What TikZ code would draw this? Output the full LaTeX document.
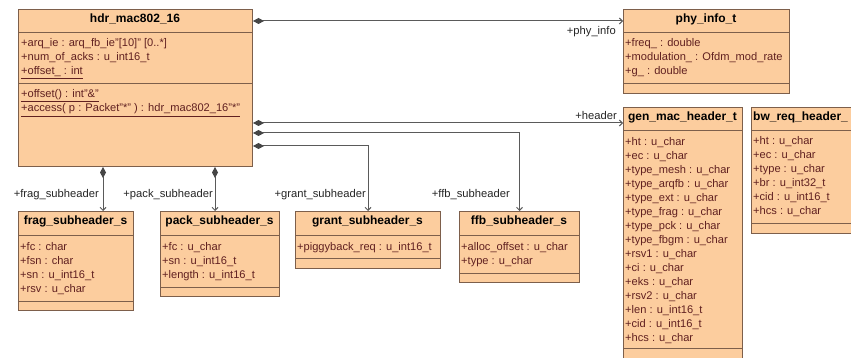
\documentclass[tikz,border=0pt]{standalone}
\usepackage{fontspec}
\setmainfont{Liberation Sans}
\usetikzlibrary{arrows.meta}
\definecolor{fillc}{RGB}{252,205,158}
\definecolor{edgec}{RGB}{125,95,75}
\definecolor{attrc}{RGB}{96,32,32}
\definecolor{connc}{RGB}{90,90,90}
\definecolor{diamc}{RGB}{70,70,70}
\tikzset{
  cls/.style={draw=edgec, fill=fillc, line width=1pt, inner sep=0pt, anchor=north west},
  sepl/.style={draw=edgec, line width=1pt},
  ttl/.style={font=\fontsize{12}{14}\selectfont\bfseries, text=black, inner sep=0pt, anchor=base},
  attrs/.style={font=\fontsize{11.1}{14}\selectfont, text=attrc, align=left, anchor=north west, inner sep=0pt},
  role/.style={font=\fontsize{11.2}{14}\selectfont, text=black!85, inner sep=0pt, anchor=base east},
  comp/.style={draw=connc, line width=1pt,
    {Diamond[length=11pt,width=6pt,fill=diamc,color=diamc]}-{Straight Barb[length=3pt,width=6pt]}},
}
\begin{document}
\begin{tikzpicture}[x=1pt,y=-1pt]
\clip (0,0) rectangle (851,358);
\fill[white] (0,0) rectangle (851,358);

% ---- hdr_mac802_16
\node[cls, minimum width=234pt, minimum height=157pt] (hdr) at (18,9) {};
\node[ttl] (hdrt) at (135,23) {hdr\_mac802\_16};
\draw[sepl] (18,33) -- (252,33);
\draw[sepl] (18,84) -- (252,84);
\node[attrs] (hdra) at (21,37) {\strut+arq\_ie : arq\_fb\_ie"[10]" [0..*]\\+num\_of\_acks : u\_int16\_t\\\underline{+offset\_ : int}};
\node[attrs] (hdrm) at (21,88) {\strut\underline{+offset() : int"\&"}\\\underline{+access( p : Packet"*" ) : hdr\_mac802\_16"*"}};

% ---- phy_info_t
\node[cls, minimum width=166pt, minimum height=84pt] (phy) at (623,9) {};
\node[ttl] (phyt) at (706,23) {phy\_info\_t};
\draw[sepl] (623,33) -- (789,33);
\draw[sepl] (623,84) -- (789,84);
\node[attrs] (phya) at (625,37) {\strut+freq\_ : double\\+modulation\_ : Ofdm\_mod\_rate\\+g\_ : double};

% ---- gen_mac_header_t
\node[cls, minimum width=119pt, minimum height=262pt] (gen) at (623,107) {};
\node[ttl] (gent) at (682.5,121) {gen\_mac\_header\_t};
\draw[sepl] (623,131) -- (742,131);
\draw[sepl] (623,348) -- (742,348);
\node[attrs] (gena) at (625,135) {\strut+ht : u\_char\\+ec : u\_char\\+type\_mesh : u\_char\\+type\_arqfb : u\_char\\+type\_ext : u\_char\\+type\_frag : u\_char\\+type\_pck : u\_char\\+type\_fbgm : u\_char\\+rsv1 : u\_char\\+ci : u\_char\\+eks : u\_char\\+rsv2 : u\_char\\+len : u\_int16\_t\\+cid : u\_int16\_t\\+hcs : u\_char};

% ---- bw_req_header_
\node[cls, minimum width=125pt, minimum height=126pt] (bw) at (751,107) {};
\node[ttl, anchor=base west] (bwt) at (753,121) {bw\_req\_header\_};
\draw[sepl] (751,131) -- (876,131);
\draw[sepl] (751,223) -- (876,223);
\node[attrs] (bwa) at (753,135) {\strut+ht : u\_char\\+ec : u\_char\\+type : u\_char\\+br : u\_int32\_t\\+cid : u\_int16\_t\\+hcs : u\_char};

% ---- frag_subheader_s
\node[cls, minimum width=115pt, minimum height=99pt] (frag) at (18,211) {};
\node[ttl] (fragt) at (75.5,225) {frag\_subheader\_s};
\draw[sepl] (18,235) -- (133,235);
\draw[sepl] (18,301) -- (133,301);
\node[attrs] (fraga) at (20,240) {\strut+fc : char\\+fsn : char\\+sn : u\_int16\_t\\+rsv : u\_char};

% ---- pack_subheader_s
\node[cls, minimum width=119pt, minimum height=85pt] (pack) at (160,211) {};
\node[ttl] (packt) at (219.5,225) {pack\_subheader\_s};
\draw[sepl] (160,235) -- (279,235);
\draw[sepl] (160,287) -- (279,287);
\node[attrs] (packa) at (162,240) {\strut+fc : u\_char\\+sn : u\_int16\_t\\+length : u\_int16\_t};

% ---- grant_subheader_s
\node[cls, minimum width=145pt, minimum height=57pt] (grant) at (295,211) {};
\node[ttl] (grantt) at (367.5,225) {grant\_subheader\_s};
\draw[sepl] (295,235) -- (440,235);
\draw[sepl] (295,258) -- (440,258);
\node[attrs] (granta) at (297,240) {\strut+piggyback\_req : u\_int16\_t};

% ---- ffb_subheader_s
\node[cls, minimum width=120pt, minimum height=71pt] (ffb) at (459,211) {};
\node[ttl] (ffbt) at (519,225) {ffb\_subheader\_s};
\draw[sepl] (459,235) -- (579,235);
\draw[sepl] (459,273) -- (579,273);
\node[attrs] (ffba) at (461,240) {\strut+alloc\_offset : u\_char\\+type : u\_char};

% ---- connectors
\draw[comp] ([yshift=-12pt]hdr.north east) -- ([yshift=-12pt]phy.north west);
\draw[comp] ([yshift=-114pt]hdr.north east) -- ([yshift=-16pt]gen.north west);
\draw[comp] ([yshift=-124pt]hdr.north east) -| (ffb.north);
\draw[comp] ([yshift=-137pt]hdr.north east) -| (grant.north);
\draw[comp] ([xshift=85pt]hdr.south west) coordinate (fs) -- (fs |- frag.north);
\draw[comp] ([xshift=197pt]hdr.south west) coordinate (ps) -- (ps |- pack.north);

% ---- role labels
\node[role] (lphy) at (616,35) {+phy\_info};
\node[role] (lhdr) at (617,120) {+header};
\node[role] (lfrag) at (99,197) {+frag\_subheader};
\node[role] (lpack) at (213,198) {+pack\_subheader};
\node[role] (lgrant) at (366,198) {+grant\_subheader};
\node[role] (lffb) at (510,198) {+ffb\_subheader};
\end{tikzpicture}
\end{document}
